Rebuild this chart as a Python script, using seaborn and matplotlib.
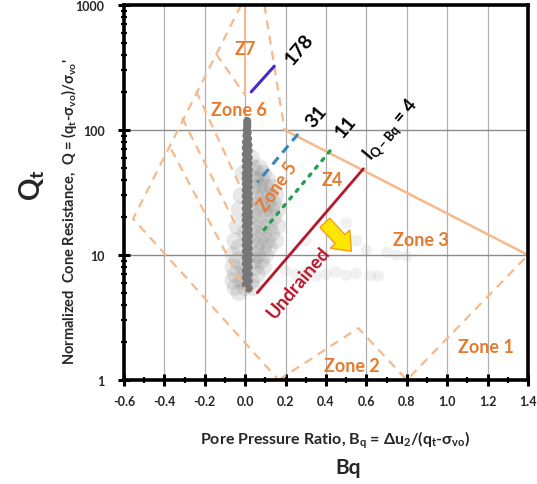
import matplotlib
matplotlib.use("Agg")
import matplotlib.pyplot as plt
import seaborn as sns
import pandas as pd
from matplotlib.ticker import FixedLocator, NullFormatter, FuncFormatter, MultipleLocator

# ---------------- data ----------------
x_ticks = [-0.6, -0.4, -0.2, 0.0, 0.2, 0.4, 0.6, 0.8, 1.0, 1.2, 1.4]
y_ticks = [1, 10, 100, 1000]

# solid zone boundaries
solid_top_bq = [0.195, 1.4]
solid_top_q = [100, 10]
solid_vert_bq = [0.0, 0.0]
solid_vert_q = [1000, 190]

# dashed zone boundaries (Bq, Q)
outer_left_bq = [-0.02, -0.555, 0.165]
outer_left_q = [1000, 19.5, 1.0]
zone2_bq = [0.165, 0.56, 0.80, 1.40]
zone2_q = [1.0, 2.6, 1.0, 10.0]
right67_bq = [0.095, 0.195]
right67_q = [1000, 100]
la_bq = [-0.144, 0.0]
la_q = [406, 190]
lb_bq = [-0.243, -0.02]
lb_q = [205, 34]
lc_bq = [-0.312, -0.035]
lc_q = [125, 16]
ld_bq = [-0.366, 0.0]
ld_q = [70, 5.3]

# index lines
line178_bq = [0.03, 0.144]
line178_q = [202, 324]
line31_bq = [0.262, 0.06]
line31_q = [93, 38]
line11_bq = [0.42, 0.08]
line11_q = [68, 15]
line4_bq = [0.06, 0.585]
line4_q = [5.0, 49]

# CPT data cloud
spike_q = [118, 112, 106, 100, 95, 90, 85, 80, 76, 72, 68, 64, 60, 57, 54, 51, 48, 45,
           43, 41, 39, 37, 35, 33, 31, 29.5, 28, 26.5, 25, 23.5, 22, 21, 20, 19, 18, 17,
           16, 15, 14.2, 13.4, 12.7, 12, 11.3, 10.7, 10.1, 9.5, 9, 8.5, 8, 7.5, 7, 6.6,
           6.2, 5.8, 5.4]
spike_bq = [0.010, 0.010, 0.010, 0.008, 0.012, 0.006, 0.014, 0.004, 0.016, 0.003, 0.017,
            0.003, 0.017, 0.003, 0.017, 0.003, 0.017, 0.003, 0.017, 0.003, 0.017, 0.003,
            0.017, 0.003, 0.017, 0.003, 0.017, 0.003, 0.017, 0.003, 0.017, 0.003, 0.017,
            0.003, 0.017, 0.003, 0.017, 0.003, 0.017, 0.003, 0.017, 0.003, 0.017, 0.003,
            0.017, 0.003, 0.017, 0.003, 0.017, 0.003, 0.017, 0.003, 0.017, 0.003, 0.017]
cloud_bq = [0.03,
            0.04, 0.07,
            0.06, 0.09, -0.01,
            0.05, 0.08, 0.11,
            0.04, 0.07, 0.10, 0.13,
            -0.02, 0.05, 0.09, 0.12, 0.15,
            0.03, 0.07, 0.11, 0.14,
            -0.03, 0.05, 0.09, 0.13, 0.16,
            0.02, 0.06, 0.10, 0.14,
            -0.04, 0.04, 0.08, 0.12, 0.16,
            0.00, 0.05, 0.09, 0.13,
            -0.05, 0.03, 0.07, 0.11, 0.15,
            -0.03, 0.05, 0.09, 0.12,
            -0.06, 0.02, 0.06, 0.10,
            -0.04, 0.04, 0.08,
            -0.06, -0.01, 0.05, 0.09,
            -0.05, 0.00, 0.06,
            -0.06, -0.02, 0.03,
            -0.05, 0.00, 0.04,
            -0.03]
cloud_q = [60,
           50, 50,
           45, 45, 45,
           40, 40, 40,
           35, 35, 35, 35,
           30, 30, 30, 30, 30,
           26, 26, 26, 26,
           23, 23, 23, 23, 23,
           20, 20, 20, 20,
           17, 17, 17, 17, 17,
           15, 15, 15, 15,
           13, 13, 13, 13, 13,
           11.5, 11.5, 11.5, 11.5,
           10, 10, 10, 10,
           9, 9, 9,
           8, 8, 8, 8,
           7, 7, 7,
           6.2, 6.2, 6.2,
           5.5, 5.5, 5.5,
           5]
tail_bq = [0.20, 0.25, 0.30, 0.35, 0.40, 0.45, 0.50, 0.55, 0.62, 0.66,
           0.45, 0.55, 0.60, 0.70, 0.75, 0.80, 0.40, 0.50, 0.30]
tail_q = [7.5, 7.0, 7.2, 6.8, 7.0, 7.3, 6.9, 7.1, 6.8, 6.8,
          12, 13, 11, 10.5, 10, 9.8, 16, 18, 13]

ORANGE_LINE = "#F6B98C"
ORANGE_TXT = "#E57A2E"

# ---------------- figure ----------------
sns.set_theme(style="white")
plt.rcParams["font.family"] = ["Lato", "DejaVu Sans"]
plt.rcParams["mathtext.fontset"] = "custom"
plt.rcParams["mathtext.rm"] = "Lato:bold"
plt.rcParams["mathtext.it"] = "Lato:bold"

fig = plt.figure(figsize=(5.37, 4.85), dpi=100)
ax = fig.add_axes([124/537, 1-381/485, (528-124)/537, (381-6)/485])
ax.set_yscale("log")
ax.set_xlim(-0.6, 1.4)
ax.set_ylim(1, 1000)

# grid
for xv in x_ticks[1:-1]:
    ax.axvline(xv, color="#B0B0B0", lw=0.9, zorder=0)
for yv in [10, 100]:
    ax.axhline(yv, color="#8A8A8A", lw=1.0, zorder=0)

# data cloud
cloud = pd.DataFrame({"Bq": cloud_bq, "Q": cloud_q})
spike = pd.DataFrame({"Bq": spike_bq, "Q": spike_q})
tail = pd.DataFrame({"Bq": tail_bq, "Q": tail_q})
sns.scatterplot(data=cloud, x="Bq", y="Q", ax=ax, s=150, color="#8C8C8C", alpha=0.2,
                edgecolor="none", zorder=1, legend=False)
sns.scatterplot(data=spike, x="Bq", y="Q", ax=ax, s=34, color="#777777", alpha=1.0,
                edgecolor="none", zorder=1, legend=False)
sns.scatterplot(data=tail, x="Bq", y="Q", ax=ax, s=70, color="#9A9A9A", alpha=0.13,
                edgecolor="none", zorder=1, legend=False)

# zone boundaries
dash = dict(color=ORANGE_LINE, lw=1.6, ls=(0, (4, 3)), zorder=2)
ax.plot(solid_top_bq, solid_top_q, color=ORANGE_LINE, lw=1.8, zorder=2)
ax.plot(solid_vert_bq, solid_vert_q, color=ORANGE_LINE, lw=1.4, zorder=2)
for bx, qy in [(outer_left_bq, outer_left_q), (zone2_bq, zone2_q), (right67_bq, right67_q),
               (la_bq, la_q), (lb_bq, lb_q), (lc_bq, lc_q), (ld_bq, ld_q)]:
    ax.plot(bx, qy, **dash)

# index lines
ax.plot(line178_bq, line178_q, color="#4B2BC8", lw=2.2, zorder=3)
ax.plot(line31_bq, line31_q, color="#3A86B8", lw=2.2, ls=(0, (3, 2)), zorder=3)
ax.plot(line11_bq, line11_q, color="#22A050", lw=2.4, ls=(0, (0.8, 2.2)),
        dash_capstyle="round", zorder=3)
ax.plot(line4_bq, line4_q, color="#B5172B", lw=2.0, zorder=3)

# arrow
ax.annotate("", xy=(0.535, 10.3), xytext=(0.385, 18.8),
            arrowprops=dict(arrowstyle="simple,head_width=1.6,head_length=1.0,tail_width=0.8",
                            fc="#FFE600", ec="#F0A020", lw=1.0), zorder=4)

# zone labels
zkw = dict(color=ORANGE_TXT, fontsize=13, fontweight="bold", ha="center", va="center", zorder=5)
ax.text(0.0, 445, "Z7", **zkw)
ax.text(-0.03, 147, "Zone 6", **zkw)
ax.text(0.16, 36, "Zone 5", rotation=55, **zkw)
ax.text(0.43, 40, "Z4", **zkw)
ax.text(0.87, 13.4, "Zone 3", **zkw)
ax.text(0.53, 1.3, "Zone 2", **zkw)
ax.text(1.19, 1.85, "Zone 1", **zkw)

lkw = dict(color="black", fontsize=14, fontweight="bold", ha="center", va="center",
           rotation=50, zorder=5)
ax.text(0.27, 445, "178", **lkw)
ax.text(0.35, 130, "31", **lkw)
ax.text(0.50, 108, "11", **lkw)
ax.text(0.72, 102, r"I$_\mathregular{Q-Bq}$ = 4", color="black", fontsize=13,
        fontweight="bold", ha="center", va="center", rotation=50, zorder=5)
ax.text(0.265, 6.1, "Undrained", color="#B5172B", fontsize=13.5, fontweight="bold",
        ha="center", va="center", rotation=50, zorder=5)

# ticks & spines
ax.xaxis.set_major_locator(FixedLocator(x_ticks))
ax.xaxis.set_minor_locator(MultipleLocator(0.1))
ax.xaxis.set_major_formatter(FuncFormatter(lambda v, p: f"{v:.1f}"))
ax.yaxis.set_major_locator(FixedLocator(y_ticks))
ax.yaxis.set_major_formatter(FuncFormatter(lambda v, p: f"{v:g}"))
ax.yaxis.set_minor_formatter(NullFormatter())
ax.tick_params(axis="both", which="major", direction="inout", length=8, width=2.2,
               color="black", labelsize=9, bottom=True, left=True)
ax.tick_params(axis="x", which="major", pad=7)
ax.tick_params(axis="y", which="major", pad=10)
ax.tick_params(axis="both", which="minor", direction="inout", length=5, width=1.6,
               color="black", bottom=True, left=True)
for lab in ax.get_xticklabels() + ax.get_yticklabels():
    lab.set_fontweight("bold")
for sp in ax.spines.values():
    sp.set_color("black")
    sp.set_linewidth(2.6)

ax.set_xlabel(r"Pore Pressure Ratio, B$_\mathregular{q}$ = Δu$_\mathregular{2}$/(q$_\mathregular{t}$-σ$_\mathregular{vo}$)",
              fontsize=11.5, fontweight="bold")
ax.xaxis.set_label_coords((335-124)/404, (381-440)/375)
ax.xaxis.label.set_va("center")
ax.set_ylabel(r"Normalized  Cone Resistance,  Q = (q$_\mathregular{t}$-σ$_\mathregular{vo}$)/σ$_\mathregular{vo}$'",
              fontsize=10.5, fontweight="bold")
ax.yaxis.set_label_coords((69-124)/404, (381-212)/375)
ax.yaxis.label.set_va("center")
fig.text(348/537, 1-468/485, "Bq", fontsize=15, fontweight="bold", ha="center", va="center")
fig.text(32/537, 1-185/485, r"Q$_\mathregular{t}$", fontsize=20, fontweight="bold",
         ha="center", va="center", rotation=90)

fig.savefig("out.png", dpi=100)
